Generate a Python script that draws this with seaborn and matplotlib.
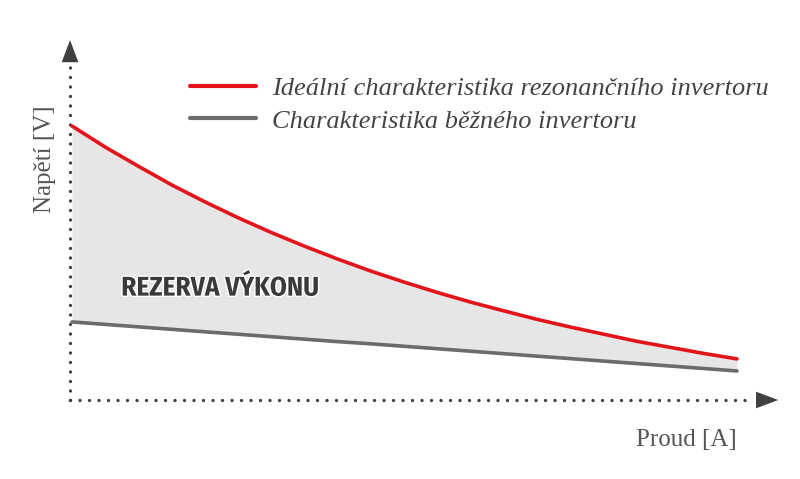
import numpy as np
import pandas as pd
import matplotlib.pyplot as plt
import matplotlib.patheffects as pe
import seaborn as sns

# current [A] (relative) and voltages [V]
proud = [0, 5, 10, 15, 20, 25, 30, 35, 40, 45, 50,
         55, 60, 65, 70, 75, 80, 85, 90, 95, 100]
idealni = [100, 92.3, 85.3, 78.5, 72.3, 66.5, 61.1, 56.1, 51.4, 47.0, 43.0,
           39.2, 35.7, 32.5, 29.4, 26.6, 24.0, 21.4, 19.2, 17.0, 15.0]
bezny = [28.5, 27.6, 26.7, 25.8, 24.9, 24.0, 23.1, 22.2, 21.3, 20.5, 19.6,
         18.7, 17.8, 16.9, 16.0, 15.1, 14.2, 13.3, 12.4, 11.5, 10.6]

labels = ['Ideální charakteristika rezonančního invertoru',
          'Charakteristika běžného invertoru']
colors = ['#e3151b', '#6b6b6b']

df = pd.DataFrame({'Proud': proud * 2,
                   'Napeti': idealni + bezny,
                   'serie': [labels[0]] * len(proud) + [labels[1]] * len(proud)})

sns.set_style('white')
plt.rcParams['font.family'] = ['Liberation Serif', 'DejaVu Serif']

fig = plt.figure(figsize=(8, 4.79), dpi=100)
ax = fig.add_axes([0, 0, 1, 1])
ax.set_xlim(-10.83, 109.47)
ax.set_ylim(-28.83, 146.0)
ax.axis('off')

# power reserve between the two characteristics
ax.fill_between(proud, bezny, idealni, color='#e6e6e6', lw=0, zorder=1)

sns.lineplot(data=df, x='Proud', y='Napeti', hue='serie', palette=colors,
             linewidth=2.6, legend=False, ax=ax, zorder=3)

# dotted axes with arrow heads
axc = '#404040'
dots = (0, (0.01, 2.84))
ax.plot([-0.3, -0.3], [0, 122], ls=dots, lw=2.4, color=axc,
        dash_capstyle='round', zorder=2)
ax.plot([-0.3, 102.5], [0, 0], ls=dots, lw=2.4, color=axc,
        dash_capstyle='round', zorder=2)
arrow = dict(arrowstyle='-|>,head_length=0.8,head_width=0.3', color=axc,
             lw=0, mutation_scale=20, shrinkA=0, shrinkB=0)
ax.annotate('', xy=(-0.3, 131.4), xytext=(-0.3, 123.4), arrowprops=arrow)
ax.annotate('', xy=(106.2, 0), xytext=(103.0, 0), arrowprops=arrow)

ax.text(-4.1, 88, 'Napětí [V]', rotation=90, ha='center', va='center',
        fontsize=18, color='#555555')
ax.text(100, -14.6, 'Proud [A]', ha='right', va='center',
        fontsize=18, color='#555555')

ax.text(7.4, 40.9, 'REZERVA VÝKONU', ha='left', va='center', fontsize=19.5,
        fontweight='bold', color='#3a3a3a',
        family=['Fira Sans Condensed', 'Roboto Condensed', 'DejaVu Sans'],
        path_effects=[pe.withStroke(linewidth=2, foreground='white')])

handles = [plt.Line2D([], [], color=c, lw=3) for c in colors]
ax.legend(handles, labels, loc='upper left', bbox_to_anchor=(190 / 800, 1 - 77 / 479),
          frameon=False, borderpad=0, borderaxespad=0, handlelength=2.5,
          handletextpad=0.6, labelspacing=0.33,
          prop=dict(family='Liberation Serif', style='italic', size=19),
          labelcolor='#444444')

fig.savefig('out.png', dpi=100)
